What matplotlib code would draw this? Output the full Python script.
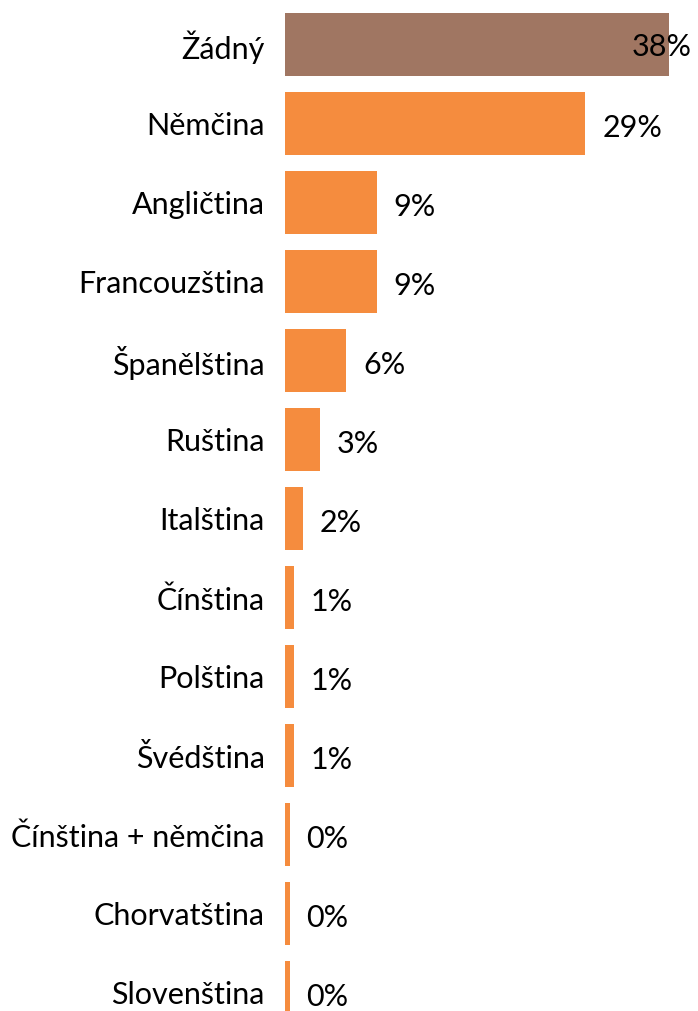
import matplotlib

matplotlib.use("Agg")
import matplotlib.pyplot as plt


languages = [
    "Žádný", "Němčina", "Angličtina", "Francouzština", "Španělština",
    "Ruština", "Italština", "Čínština", "Polština", "Švédština",
    "Čínština + němčina", "Chorvatština", "Slovenština",
]
shares = [37.6, 29.4, 9.0, 9.0, 6.0, 3.4, 1.8, 0.9, 0.9, 0.9, 0.48, 0.48, 0.48]

brown = "#A07662"
orange = "#F58C3E"

plt.rcParams["font.family"] = ["Lato", "DejaVu Sans"]

fig = plt.figure(figsize=(6.98, 10.11), dpi=100)
ax = fig.add_axes([285 / 698, 0, 413 / 698, 1])

ypos = list(range(len(languages)))
colors = [brown] + [orange] * (len(languages) - 1)
ax.barh(ypos, shares, height=0.8, color=colors)

ax.set_xlim(0, 413 / 10.22)
ax.set_ylim((1011 - 44.5) / 79, -44.5 / 79)
ax.axis("off")

for y, name, v in zip(ypos, languages, shares):
    ax.annotate(name, (0, y), xytext=(-14.5, -2), textcoords="offset points",
                ha="right", va="center", fontsize=22)
    label = f"{v:.0f}%"
    if v == max(shares):
        # no room to the right of the longest bar, keep its label at the edge
        ax.annotate(label, (v, y), xytext=(16, -2), textcoords="offset points",
                    ha="right", va="center", fontsize=22)
    else:
        ax.annotate(label, (v, y), xytext=(12, -3), textcoords="offset points",
                    ha="left", va="center", fontsize=22)

fig.savefig("out.png", dpi=100)
